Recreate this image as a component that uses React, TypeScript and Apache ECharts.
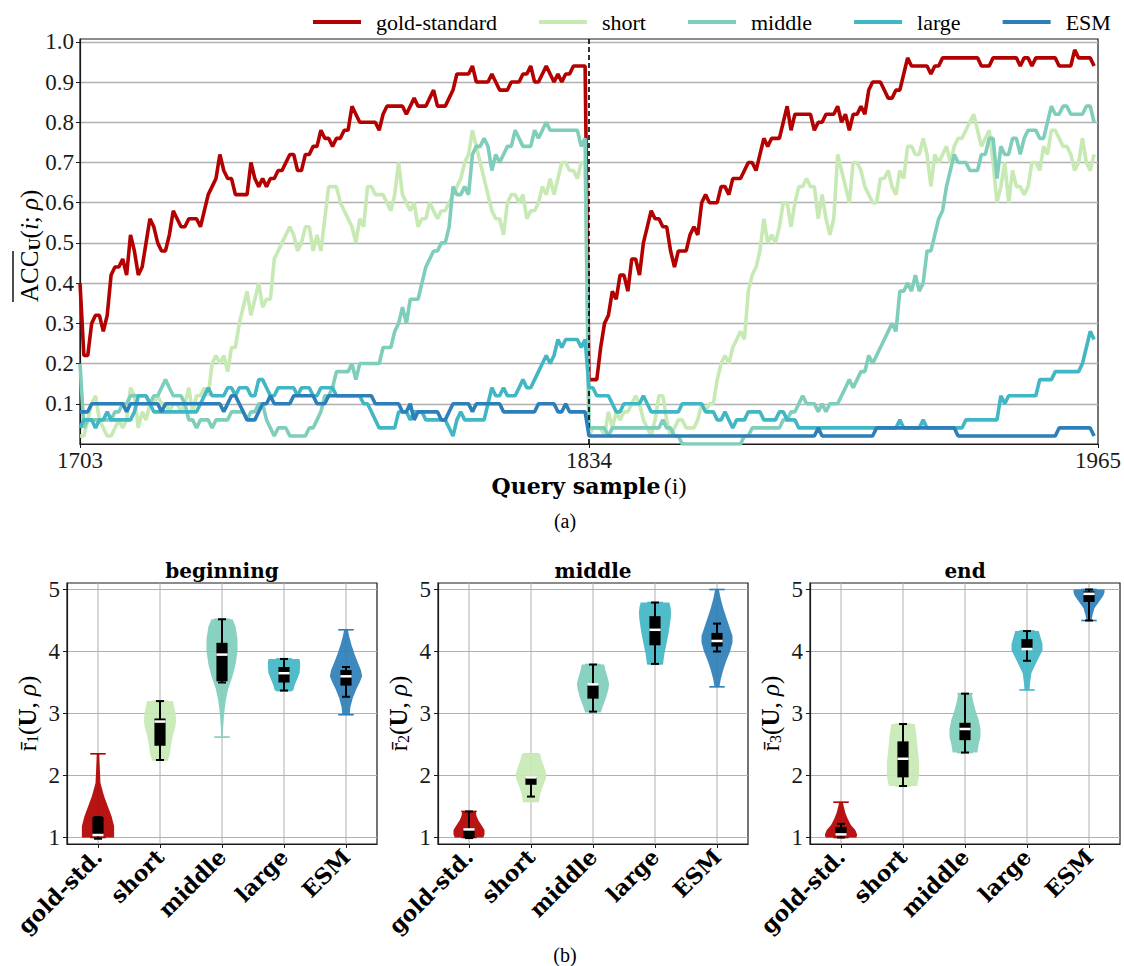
import React, { useEffect, useRef } from "react";
import * as echarts from "echarts";

// ---------------- top chart data ----------------
const START_SAMPLE = 1703;
const SPLIT_SAMPLE = 1834;
const END_SAMPLE = 1965;
const X_TICK_STEP = 131;
const ACC_TICKS = [0.1, 0.2, 0.3, 0.4, 0.5, 0.6, 0.7, 0.8, 0.9, 1.0];

const METHODS = ["gold-standard", "short", "middle", "large", "ESM"];
const METHOD_LABELS = ["gold-std.", "short", "middle", "large", "ESM"];
const COLORS = ["#b30000", "#c7e9b4", "#7fcdbb", "#41b6c4", "#2c7fb8"];

// mean accuracy per query sample, starting at 1703
const accGold = [
  0.40, 0.22, 0.22, 0.30, 0.32, 0.32, 0.28, 0.32, 0.42, 0.44,
  0.44, 0.46, 0.42, 0.52, 0.48, 0.42, 0.44, 0.50, 0.56, 0.54,
  0.50, 0.48, 0.48, 0.52, 0.58, 0.56, 0.54, 0.54, 0.56, 0.56,
  0.56, 0.54, 0.58, 0.62, 0.64, 0.66, 0.72, 0.68, 0.66, 0.66,
  0.62, 0.62, 0.62, 0.62, 0.70, 0.66, 0.64, 0.66, 0.64, 0.66,
  0.66, 0.68, 0.68, 0.70, 0.72, 0.72, 0.68, 0.68, 0.72, 0.72,
  0.74, 0.74, 0.78, 0.76, 0.76, 0.74, 0.76, 0.76, 0.78, 0.78,
  0.84, 0.82, 0.80, 0.80, 0.80, 0.80, 0.80, 0.78, 0.82, 0.84,
  0.84, 0.84, 0.84, 0.84, 0.82, 0.84, 0.86, 0.84, 0.84, 0.84,
  0.86, 0.88, 0.84, 0.84, 0.84, 0.86, 0.88, 0.92, 0.92, 0.92,
  0.92, 0.94, 0.90, 0.90, 0.90, 0.90, 0.92, 0.90, 0.88, 0.88,
  0.88, 0.90, 0.90, 0.90, 0.92, 0.92, 0.94, 0.90, 0.90, 0.92,
  0.94, 0.92, 0.90, 0.92, 0.90, 0.92, 0.92, 0.94, 0.94, 0.94,
  0.94, 0.16, 0.16, 0.16, 0.24, 0.30, 0.32, 0.38, 0.36, 0.42,
  0.42, 0.38, 0.46, 0.46, 0.42, 0.50, 0.54, 0.58, 0.56, 0.56,
  0.54, 0.54, 0.48, 0.44, 0.48, 0.48, 0.48, 0.52, 0.54, 0.52,
  0.60, 0.62, 0.60, 0.60, 0.60, 0.64, 0.64, 0.62, 0.66, 0.66,
  0.66, 0.68, 0.70, 0.70, 0.68, 0.72, 0.76, 0.74, 0.76, 0.76,
  0.76, 0.80, 0.84, 0.78, 0.82, 0.82, 0.82, 0.82, 0.82, 0.78,
  0.80, 0.80, 0.82, 0.82, 0.82, 0.84, 0.80, 0.82, 0.78, 0.82,
  0.82, 0.84, 0.82, 0.88, 0.90, 0.90, 0.90, 0.88, 0.86, 0.86,
  0.88, 0.88, 0.92, 0.96, 0.94, 0.94, 0.94, 0.94, 0.94, 0.92,
  0.94, 0.94, 0.96, 0.96, 0.96, 0.96, 0.96, 0.96, 0.96, 0.96,
  0.96, 0.96, 0.94, 0.94, 0.94, 0.96, 0.96, 0.96, 0.96, 0.96,
  0.96, 0.96, 0.94, 0.96, 0.96, 0.94, 0.96, 0.96, 0.96, 0.96,
  0.96, 0.96, 0.94, 0.94, 0.94, 0.94, 0.98, 0.96, 0.96, 0.96,
  0.96, 0.94,
];

const accShort = [
  0.02, 0.02, 0.06, 0.10, 0.12, 0.06, 0.04, 0.02, 0.02, 0.04,
  0.06, 0.04, 0.06, 0.14, 0.12, 0.04, 0.08, 0.06, 0.10, 0.10,
  0.12, 0.10, 0.10, 0.08, 0.10, 0.10, 0.08, 0.10, 0.14, 0.08,
  0.12, 0.12, 0.14, 0.12, 0.20, 0.22, 0.20, 0.22, 0.18, 0.24,
  0.24, 0.30, 0.34, 0.38, 0.32, 0.36, 0.40, 0.34, 0.36, 0.36,
  0.46, 0.48, 0.50, 0.52, 0.54, 0.52, 0.48, 0.50, 0.54, 0.54,
  0.48, 0.52, 0.48, 0.56, 0.64, 0.64, 0.64, 0.60, 0.58, 0.56,
  0.54, 0.50, 0.56, 0.54, 0.64, 0.64, 0.62, 0.62, 0.62, 0.60,
  0.58, 0.62, 0.70, 0.62, 0.60, 0.58, 0.60, 0.54, 0.56, 0.56,
  0.60, 0.58, 0.56, 0.58, 0.58, 0.60, 0.62, 0.64, 0.66, 0.70,
  0.72, 0.78, 0.74, 0.70, 0.66, 0.62, 0.58, 0.56, 0.56, 0.52,
  0.60, 0.62, 0.62, 0.60, 0.62, 0.56, 0.58, 0.58, 0.60, 0.64,
  0.62, 0.66, 0.62, 0.66, 0.70, 0.70, 0.68, 0.68, 0.66, 0.70,
  0.70, 0.02, 0.04, 0.04, 0.04, 0.02, 0.08, 0.04, 0.08, 0.06,
  0.08, 0.08, 0.10, 0.12, 0.10, 0.06, 0.04, 0.02, 0.06, 0.12,
  0.12, 0.06, 0.02, 0.04, 0.06, 0.06, 0.04, 0.04, 0.04, 0.06,
  0.10, 0.08, 0.10, 0.10, 0.16, 0.20, 0.22, 0.20, 0.24, 0.26,
  0.28, 0.26, 0.38, 0.42, 0.44, 0.48, 0.56, 0.50, 0.52, 0.50,
  0.54, 0.60, 0.60, 0.54, 0.60, 0.64, 0.64, 0.66, 0.64, 0.64,
  0.56, 0.62, 0.56, 0.52, 0.56, 0.72, 0.68, 0.64, 0.60, 0.70,
  0.70, 0.68, 0.64, 0.62, 0.60, 0.60, 0.66, 0.66, 0.68, 0.64,
  0.62, 0.68, 0.66, 0.74, 0.74, 0.72, 0.72, 0.76, 0.72, 0.64,
  0.72, 0.70, 0.72, 0.74, 0.70, 0.74, 0.76, 0.76, 0.78, 0.80,
  0.82, 0.78, 0.74, 0.76, 0.78, 0.70, 0.60, 0.64, 0.70, 0.60,
  0.68, 0.64, 0.64, 0.62, 0.64, 0.70, 0.70, 0.68, 0.74, 0.72,
  0.78, 0.78, 0.76, 0.74, 0.74, 0.72, 0.68, 0.70, 0.76, 0.70,
  0.68, 0.72,
];

const accMiddle = [
  0.20, 0.04, 0.06, 0.06, 0.06, 0.06, 0.06, 0.06, 0.06, 0.08,
  0.08, 0.10, 0.10, 0.12, 0.12, 0.12, 0.12, 0.12, 0.10, 0.12,
  0.12, 0.14, 0.16, 0.14, 0.12, 0.12, 0.12, 0.10, 0.06, 0.06,
  0.04, 0.06, 0.06, 0.06, 0.04, 0.06, 0.06, 0.06, 0.06, 0.08,
  0.08, 0.08, 0.08, 0.06, 0.08, 0.08, 0.10, 0.10, 0.06, 0.04,
  0.02, 0.04, 0.04, 0.04, 0.02, 0.02, 0.02, 0.02, 0.02, 0.04,
  0.04, 0.06, 0.08, 0.12, 0.12, 0.14, 0.18, 0.18, 0.18, 0.18,
  0.20, 0.16, 0.20, 0.20, 0.20, 0.20, 0.20, 0.20, 0.24, 0.24,
  0.24, 0.28, 0.30, 0.34, 0.30, 0.36, 0.36, 0.36, 0.40, 0.44,
  0.46, 0.48, 0.48, 0.50, 0.50, 0.54, 0.64, 0.62, 0.62, 0.64,
  0.62, 0.72, 0.74, 0.74, 0.76, 0.74, 0.68, 0.72, 0.70, 0.72,
  0.74, 0.74, 0.78, 0.76, 0.74, 0.74, 0.74, 0.78, 0.76, 0.78,
  0.80, 0.78, 0.78, 0.78, 0.78, 0.78, 0.78, 0.78, 0.78, 0.74,
  0.76, 0.04, 0.04, 0.04, 0.04, 0.04, 0.02, 0.04, 0.04, 0.04,
  0.04, 0.04, 0.04, 0.04, 0.04, 0.04, 0.04, 0.04, 0.04, 0.04,
  0.06, 0.04, 0.04, 0.02, 0.02, 0.00, 0.00, 0.00, 0.00, 0.00,
  0.00, 0.00, 0.00, 0.00, 0.00, 0.00, 0.00, 0.00, 0.00, 0.00,
  0.00, 0.02, 0.02, 0.04, 0.04, 0.04, 0.04, 0.04, 0.04, 0.04,
  0.04, 0.06, 0.06, 0.08, 0.08, 0.10, 0.12, 0.10, 0.10, 0.10,
  0.08, 0.10, 0.08, 0.10, 0.10, 0.10, 0.12, 0.14, 0.16, 0.14,
  0.16, 0.18, 0.18, 0.22, 0.20, 0.22, 0.24, 0.26, 0.28, 0.30,
  0.28, 0.38, 0.38, 0.40, 0.38, 0.42, 0.38, 0.40, 0.48, 0.48,
  0.52, 0.56, 0.58, 0.64, 0.68, 0.72, 0.70, 0.70, 0.70, 0.68,
  0.68, 0.68, 0.72, 0.72, 0.76, 0.76, 0.66, 0.74, 0.72, 0.72,
  0.76, 0.76, 0.72, 0.76, 0.78, 0.78, 0.78, 0.76, 0.76, 0.80,
  0.84, 0.82, 0.82, 0.84, 0.84, 0.82, 0.82, 0.82, 0.82, 0.84,
  0.84, 0.80,
];

const accLarge = [
  0.04, 0.06, 0.06, 0.06, 0.04, 0.06, 0.06, 0.08, 0.06, 0.06,
  0.06, 0.06, 0.06, 0.06, 0.08, 0.12, 0.12, 0.12, 0.10, 0.08,
  0.08, 0.08, 0.08, 0.08, 0.08, 0.08, 0.08, 0.08, 0.08, 0.08,
  0.08, 0.10, 0.12, 0.14, 0.12, 0.12, 0.12, 0.12, 0.14, 0.14,
  0.12, 0.14, 0.14, 0.14, 0.12, 0.12, 0.16, 0.16, 0.14, 0.12,
  0.12, 0.14, 0.14, 0.14, 0.14, 0.14, 0.12, 0.14, 0.14, 0.14,
  0.12, 0.12, 0.14, 0.14, 0.14, 0.14, 0.12, 0.12, 0.12, 0.12,
  0.12, 0.12, 0.12, 0.10, 0.10, 0.08, 0.06, 0.04, 0.04, 0.04,
  0.04, 0.04, 0.08, 0.08, 0.08, 0.06, 0.08, 0.08, 0.08, 0.06,
  0.06, 0.06, 0.06, 0.06, 0.06, 0.04, 0.02, 0.06, 0.08, 0.06,
  0.06, 0.06, 0.06, 0.06, 0.06, 0.10, 0.14, 0.12, 0.12, 0.14,
  0.12, 0.12, 0.12, 0.14, 0.16, 0.14, 0.14, 0.16, 0.18, 0.20,
  0.22, 0.20, 0.22, 0.26, 0.24, 0.26, 0.26, 0.26, 0.26, 0.24,
  0.26, 0.14, 0.14, 0.12, 0.12, 0.12, 0.12, 0.10, 0.08, 0.08,
  0.10, 0.10, 0.10, 0.10, 0.10, 0.12, 0.10, 0.08, 0.08, 0.08,
  0.08, 0.08, 0.08, 0.08, 0.08, 0.10, 0.10, 0.10, 0.10, 0.10,
  0.10, 0.08, 0.08, 0.08, 0.06, 0.06, 0.08, 0.06, 0.04, 0.06,
  0.06, 0.06, 0.08, 0.08, 0.08, 0.08, 0.06, 0.06, 0.06, 0.06,
  0.08, 0.08, 0.06, 0.06, 0.06, 0.04, 0.04, 0.04, 0.04, 0.04,
  0.04, 0.04, 0.04, 0.04, 0.04, 0.04, 0.04, 0.04, 0.04, 0.04,
  0.04, 0.04, 0.04, 0.04, 0.04, 0.04, 0.04, 0.04, 0.04, 0.04,
  0.04, 0.06, 0.04, 0.04, 0.04, 0.04, 0.04, 0.06, 0.04, 0.04,
  0.04, 0.04, 0.04, 0.04, 0.04, 0.04, 0.04, 0.04, 0.06, 0.06,
  0.06, 0.06, 0.06, 0.06, 0.06, 0.06, 0.06, 0.12, 0.10, 0.12,
  0.12, 0.12, 0.12, 0.12, 0.12, 0.12, 0.12, 0.16, 0.16, 0.16,
  0.16, 0.18, 0.18, 0.18, 0.18, 0.18, 0.18, 0.18, 0.20, 0.24,
  0.28, 0.26,
];

const accEsm = [
  0.08, 0.08, 0.08, 0.10, 0.10, 0.10, 0.10, 0.10, 0.10, 0.10,
  0.10, 0.10, 0.08, 0.10, 0.10, 0.10, 0.10, 0.10, 0.10, 0.10,
  0.10, 0.08, 0.10, 0.10, 0.10, 0.10, 0.10, 0.10, 0.10, 0.10,
  0.10, 0.10, 0.10, 0.10, 0.10, 0.10, 0.10, 0.08, 0.10, 0.12,
  0.12, 0.10, 0.08, 0.06, 0.06, 0.06, 0.08, 0.10, 0.10, 0.12,
  0.10, 0.10, 0.10, 0.10, 0.10, 0.12, 0.12, 0.12, 0.12, 0.12,
  0.12, 0.10, 0.10, 0.10, 0.12, 0.12, 0.12, 0.12, 0.12, 0.12,
  0.12, 0.12, 0.12, 0.12, 0.12, 0.12, 0.10, 0.10, 0.10, 0.10,
  0.10, 0.10, 0.10, 0.08, 0.08, 0.10, 0.06, 0.08, 0.08, 0.08,
  0.08, 0.08, 0.08, 0.06, 0.06, 0.08, 0.10, 0.10, 0.10, 0.10,
  0.10, 0.08, 0.10, 0.10, 0.10, 0.10, 0.10, 0.10, 0.10, 0.08,
  0.08, 0.08, 0.08, 0.08, 0.08, 0.08, 0.08, 0.08, 0.10, 0.10,
  0.10, 0.10, 0.10, 0.08, 0.08, 0.10, 0.08, 0.08, 0.08, 0.08,
  0.08, 0.02, 0.02, 0.02, 0.02, 0.02, 0.02, 0.02, 0.02, 0.02,
  0.02, 0.02, 0.02, 0.02, 0.02, 0.02, 0.02, 0.02, 0.02, 0.02,
  0.02, 0.02, 0.02, 0.02, 0.02, 0.02, 0.02, 0.02, 0.02, 0.02,
  0.02, 0.02, 0.02, 0.02, 0.02, 0.02, 0.02, 0.02, 0.02, 0.02,
  0.02, 0.02, 0.02, 0.02, 0.02, 0.02, 0.02, 0.02, 0.02, 0.02,
  0.02, 0.02, 0.02, 0.02, 0.02, 0.02, 0.02, 0.02, 0.02, 0.02,
  0.04, 0.02, 0.02, 0.02, 0.02, 0.02, 0.02, 0.02, 0.02, 0.02,
  0.02, 0.02, 0.02, 0.02, 0.02, 0.04, 0.04, 0.04, 0.04, 0.04,
  0.04, 0.04, 0.04, 0.04, 0.04, 0.04, 0.04, 0.04, 0.04, 0.04,
  0.04, 0.04, 0.04, 0.04, 0.04, 0.04, 0.02, 0.02, 0.02, 0.02,
  0.02, 0.02, 0.02, 0.02, 0.02, 0.02, 0.02, 0.02, 0.02, 0.02,
  0.02, 0.02, 0.02, 0.02, 0.02, 0.02, 0.02, 0.02, 0.02, 0.02,
  0.02, 0.02, 0.04, 0.04, 0.04, 0.04, 0.04, 0.04, 0.04, 0.04,
  0.04, 0.02,
];

const ACC_SERIES = [accGold, accShort, accMiddle, accLarge, accEsm];

// ---------------- violin data ----------------
const PANEL_TITLES = ["beginning", "middle", "end"];
const RANK_TICKS = [1, 2, 3, 4, 5];
const RANK_MIN = 0.895;
const RANK_MAX = 5.105;

// violin outline: [rank, half width (category units)], bottom to top
const profilesBeginning = [
  [[1.0, 0.26], [1.18, 0.26], [1.34, 0.22], [1.5, 0.16], [1.66, 0.1], [1.88, 0.04], [2.1, 0.03], [2.35, 0.02]],
  [[2.25, 0.13], [2.35, 0.16], [2.5, 0.18], [2.65, 0.21], [2.8, 0.25], [2.9, 0.26], [3.0, 0.25], [3.1, 0.23], [3.2, 0.21]],
  [[2.62, 0.01], [2.8, 0.02], [3.0, 0.035], [3.2, 0.06], [3.4, 0.1], [3.6, 0.17], [3.8, 0.22], [4.0, 0.25], [4.2, 0.25], [4.4, 0.22], [4.52, 0.17]],
  [[3.37, 0.15], [3.45, 0.17], [3.55, 0.21], [3.65, 0.25], [3.75, 0.26], [3.82, 0.26], [3.88, 0.25]],
  [[2.98, 0.06], [3.1, 0.07], [3.25, 0.11], [3.4, 0.17], [3.5, 0.22], [3.6, 0.26], [3.7, 0.24], [3.8, 0.2], [3.95, 0.14], [4.1, 0.09], [4.25, 0.05], [4.35, 0.03]],
];
const profilesMiddle = [
  [[1.0, 0.23], [1.05, 0.25], [1.12, 0.25], [1.2, 0.2], [1.28, 0.15], [1.35, 0.12], [1.42, 0.11]],
  [[1.58, 0.13], [1.7, 0.15], [1.85, 0.2], [1.95, 0.24], [2.02, 0.25], [2.15, 0.21], [2.25, 0.17], [2.35, 0.15]],
  [[3.03, 0.13], [3.12, 0.16], [3.25, 0.21], [3.4, 0.25], [3.48, 0.26], [3.6, 0.23], [3.7, 0.2], [3.79, 0.18]],
  [[3.8, 0.13], [3.95, 0.15], [4.1, 0.18], [4.3, 0.22], [4.5, 0.25], [4.62, 0.26], [4.72, 0.25], [4.79, 0.23]],
  [[3.43, 0.04], [3.55, 0.06], [3.7, 0.1], [3.85, 0.15], [4.0, 0.21], [4.15, 0.25], [4.25, 0.25], [4.4, 0.2], [4.55, 0.15], [4.7, 0.1], [4.85, 0.06], [5.0, 0.03]],
];
const profilesEnd = [
  [[1.0, 0.25], [1.05, 0.26], [1.12, 0.23], [1.2, 0.16], [1.3, 0.11], [1.4, 0.07], [1.5, 0.045], [1.57, 0.03]],
  [[1.83, 0.23], [2.0, 0.26], [2.2, 0.26], [2.4, 0.24], [2.6, 0.22], [2.75, 0.2], [2.83, 0.19]],
  [[2.37, 0.2], [2.5, 0.22], [2.62, 0.25], [2.75, 0.25], [2.9, 0.22], [3.05, 0.17], [3.2, 0.13], [3.32, 0.11]],
  [[3.38, 0.04], [3.5, 0.05], [3.65, 0.07], [3.8, 0.14], [3.92, 0.2], [4.02, 0.25], [4.12, 0.25], [4.22, 0.22], [4.33, 0.19]],
  [[4.5, 0.04], [4.6, 0.06], [4.7, 0.09], [4.8, 0.16], [4.9, 0.23], [4.95, 0.25], [5.0, 0.25]],
];

// box plot: [whisker low, Q1, median, Q3, whisker high]
const boxesBeginning = [
  [0.98, 1.02, 1.04, 1.33, 1.33],
  [2.25, 2.48, 2.87, 2.92, 3.2],
  [3.5, 3.52, 3.95, 4.14, 4.52],
  [3.37, 3.5, 3.65, 3.75, 3.88],
  [3.27, 3.45, 3.6, 3.7, 3.75],
];
const boxesMiddle = [
  [0.99, 0.99, 1.13, 1.13, 1.42],
  [1.66, 1.85, 1.97, 1.97, 1.97],
  [3.03, 3.24, 3.47, 3.47, 3.79],
  [3.8, 4.1, 4.35, 4.57, 4.79],
  [4.0, 4.08, 4.17, 4.3, 4.45],
];
const boxesEnd = [
  [1.0, 1.03, 1.05, 1.17, 1.22],
  [1.83, 1.97, 2.27, 2.55, 2.83],
  [2.37, 2.57, 2.75, 2.85, 3.32],
  [3.85, 4.03, 4.04, 4.2, 4.33],
  [4.5, 4.8, 4.93, 4.97, 5.0],
];

const PANEL_PROFILES = [profilesBeginning, profilesMiddle, profilesEnd];
const PANEL_BOXES = [boxesBeginning, boxesMiddle, boxesEnd];

// ---------------- styling ----------------
const FONT = '"Liberation Serif", "DejaVu Serif", serif';
const BOLD_FONT = '"DejaVu Serif", serif';
const INK = "#1a1a1a";
const GRID_GREY = "#b0b0b0";
const PANEL_LEFTS = [67, 438, 810];

function makeViolinRenderer(profiles: number[][][]) {
  return (params: any, api: any) => {
    const idx = params.dataIndex;
    const cat = api.value(0);
    const wLo = api.value(1);
    const q1 = api.value(2);
    const med = api.value(3);
    const q3 = api.value(4);
    const wHi = api.value(5);
    const band = api.size([1, 0])[0];
    const prof = profiles[idx];
    const color = COLORS[idx];
    const base = api.coord([cat, RANK_MIN]);
    const topPt = api.coord([cat, RANK_MAX]);
    const cx = base[0];
    const y = (v: number) => api.coord([cat, v])[1];
    const left = prof.map(([v, hw]) => [cx - hw * band, y(v)]);
    const right = prof
      .slice()
      .reverse()
      .map(([v, hw]) => [cx + hw * band, y(v)]);
    const vMin = prof[0][0];
    const vMax = prof[prof.length - 1][0];
    const capHW = 0.125 * band;
    const boxHW = 0.09 * band;
    const whHW = 0.065 * band;
    const hline = (v: number, hw: number, stroke: string, lw: number) => ({
      type: "line",
      shape: { x1: cx - hw, y1: y(v), x2: cx + hw, y2: y(v) },
      style: { stroke, lineWidth: lw },
    });
    return {
      type: "group",
      children: [
        {
          type: "line",
          shape: { x1: cx, y1: topPt[1], x2: cx, y2: base[1] },
          style: { stroke: GRID_GREY, lineWidth: 1 },
        },
        {
          type: "polygon",
          shape: { points: [...left, ...right] },
          style: { fill: color, opacity: 0.92 },
        },
        hline(vMin, capHW, color, 1.6),
        hline(vMax, capHW, color, 1.6),
        {
          type: "line",
          shape: { x1: cx, y1: y(wLo), x2: cx, y2: y(wHi) },
          style: { stroke: "#000", lineWidth: 2 },
        },
        hline(wLo, whHW, "#000", 2),
        hline(wHi, whHW, "#000", 2),
        {
          type: "rect",
          shape: { x: cx - boxHW, y: y(q3), width: 2 * boxHW, height: Math.max(1.5, y(q1) - y(q3)) },
          style: { fill: "#000" },
        },
        hline(med, boxHW, "#ffffff", 2.5),
      ],
    };
  };
}

function buildOption() {
  const grids: any[] = [
    { left: 80, top: 39, width: 1020, height: 405, show: true, borderColor: INK, borderWidth: 1.2 },
  ];
  PANEL_LEFTS.forEach((left) =>
    grids.push({ left, top: 583, width: 310, height: 261, show: true, borderColor: INK, borderWidth: 1.2 })
  );

  const xAxes: any[] = [
    {
      type: "value",
      gridIndex: 0,
      min: START_SAMPLE,
      max: END_SAMPLE,
      interval: X_TICK_STEP,
      axisLine: { show: true, lineStyle: { color: INK, width: 1.2 } },
      axisTick: { show: true, length: 4, lineStyle: { color: INK } },
      axisLabel: {
        formatter: (v: number) => String(Math.round(v)),
        fontFamily: FONT,
        fontSize: 23,
        color: INK,
        margin: 5,
        showMinLabel: true,
        showMaxLabel: true,
      },
      splitLine: { show: false },
      name: "{b|Query sample} {a|(i)}",
      nameLocation: "middle",
      nameGap: 30,
      nameTextStyle: {
        rich: {
          b: { fontFamily: BOLD_FONT, fontWeight: "bold", fontSize: 22, color: "#000" },
          a: { fontFamily: FONT, fontSize: 24, color: "#000" },
        },
      },
    },
  ];
  const yAxes: any[] = [
    {
      type: "value",
      gridIndex: 0,
      min: 0,
      max: 1.007,
      interval: 0.1,
      axisLine: { show: true, lineStyle: { color: INK, width: 1.2 } },
      axisTick: { show: true, length: 4, customValues: ACC_TICKS, lineStyle: { color: INK } },
      axisLabel: {
        customValues: ACC_TICKS,
        formatter: (v: number) => v.toFixed(1),
        fontFamily: FONT,
        fontSize: 23,
        color: INK,
        margin: 6,
      },
      splitLine: { show: true, lineStyle: { color: GRID_GREY, width: 1.3 } },
    },
  ];

  PANEL_TITLES.forEach((_, k) => {
    xAxes.push({
      type: "category",
      gridIndex: k + 1,
      data: METHOD_LABELS,
      boundaryGap: true,
      axisLine: { show: true, lineStyle: { color: INK, width: 1.2 } },
      axisTick: { show: true, alignWithLabel: true, length: 4, lineStyle: { color: INK } },
      axisLabel: {
        interval: 0,
        rotate: 45,
        fontFamily: BOLD_FONT,
        fontWeight: "bold",
        fontSize: 22,
        color: "#000",
        margin: 9,
      },
      splitLine: { show: false },
    });
    yAxes.push({
      type: "value",
      gridIndex: k + 1,
      min: RANK_MIN,
      max: RANK_MAX,
      axisLine: { show: true, lineStyle: { color: INK, width: 1.2 } },
      axisTick: { show: true, length: 4, customValues: RANK_TICKS, lineStyle: { color: INK } },
      axisLabel: {
        customValues: RANK_TICKS,
        formatter: (v: number) => String(Math.round(v)),
        fontFamily: FONT,
        fontSize: 23,
        color: INK,
        margin: 7,
      },
      splitLine: { show: true, lineStyle: { color: GRID_GREY, width: 1 } },
      name: `{r|r\u0304}{s|${k + 1}}{a|(}{b|U}{a|, }{i|\u03c1}{a|)}`,
      nameLocation: "middle",
      nameRotate: 90,
      nameGap: 27,
      nameTextStyle: {
        rich: {
          r: { fontFamily: FONT, fontSize: 25, color: "#000" },
          a: { fontFamily: FONT, fontSize: 25, color: "#000" },
          b: { fontFamily: FONT, fontSize: 25, fontWeight: "bold", color: "#000" },
          i: { fontFamily: FONT, fontSize: 25, fontStyle: "italic", color: "#000" },
          s: { fontFamily: FONT, fontSize: 16, color: "#000", verticalAlign: "bottom", lineHeight: 15 },
        },
      },
    });
  });

  const series: any[] = ACC_SERIES.map((vals, k) => ({
    type: "line",
    name: METHODS[k],
    xAxisIndex: 0,
    yAxisIndex: 0,
    data: vals.map((v, j) => [START_SAMPLE + j, v]),
    showSymbol: false,
    symbol: "none",
    color: COLORS[k],
    lineStyle: { width: 3.6, color: COLORS[k] },
    z: 2 + k,
    ...(k === ACC_SERIES.length - 1
      ? {
          markLine: {
            silent: true,
            symbol: ["none", "none"],
            label: { show: false },
            lineStyle: { type: [5, 3], color: "#000", width: 1.6 },
            data: [{ xAxis: SPLIT_SAMPLE }],
          },
        }
      : {}),
  }));

  PANEL_TITLES.forEach((_, k) => {
    series.push({
      type: "custom",
      name: `violin-${k}`,
      xAxisIndex: k + 1,
      yAxisIndex: k + 1,
      silent: true,
      data: PANEL_BOXES[k].map((b, i) => [i, ...b]),
      renderItem: makeViolinRenderer(PANEL_PROFILES[k]),
      z: 3,
    });
  });

  const centered = { textAlign: "center", textVerticalAlign: "middle", align: "center", verticalAlign: "middle" };
  const graphics: any[] = PANEL_TITLES.map((t, k) => ({
    type: "text",
    x: PANEL_LEFTS[k] + 155,
    y: 571,
    style: { text: t, font: `bold 20px ${BOLD_FONT}`, fill: "#000", ...centered },
  }));
  [
    ["(a)", 521],
    ["(b)", 955],
  ].forEach(([t, yy]) =>
    graphics.push({
      type: "text",
      x: 565,
      y: yy,
      style: { text: t, font: `20px ${FONT}`, fill: "#000", ...centered },
    })
  );
  // y-axis title of the accuracy plot (rotated, reading upwards), with overline on ACC
  graphics.push({
    type: "text",
    x: 29,
    y: 302,
    rotation: Math.PI / 2,
    style: {
      text: "{a|ACC}{s|U}{a|(}{i|i}{a|; }{i|\u03c1}{a|)}",
      fill: "#000",
      textAlign: "left",
      align: "left",
      textVerticalAlign: "middle",
      verticalAlign: "middle",
      rich: {
        a: { fontFamily: FONT, fontSize: 25, fill: "#000", color: "#000" },
        i: { fontFamily: FONT, fontSize: 25, fontStyle: "italic", fill: "#000", color: "#000" },
        s: {
          fontFamily: BOLD_FONT,
          fontSize: 14,
          fontWeight: "bold",
          fill: "#000",
          color: "#000",
          verticalAlign: "bottom",
          lineHeight: 14,
        },
      },
    },
  });
  graphics.push({
    type: "line",
    shape: { x1: 13, y1: 302, x2: 13, y2: 251 },
    style: { stroke: "#000", lineWidth: 1.4 },
  });

  return {
    animation: false,
    backgroundColor: "#ffffff",
    legend: {
      data: METHODS,
      top: 6,
      left: 308,
      icon: "rect",
      itemWidth: 48,
      itemHeight: 4,
      itemGap: 42,
      textStyle: { fontFamily: FONT, fontSize: 22, color: "#000", padding: [0, 0, 0, 10] },
    },
    grid: grids,
    xAxis: xAxes,
    yAxis: yAxes,
    series,
    graphic: graphics,
  };
}

export default function App() {
  const ref = useRef<HTMLDivElement>(null);
  useEffect(() => {
    if (!ref.current) return;
    const chart = echarts.init(ref.current, undefined, { renderer: "svg" });
    chart.setOption(buildOption() as any);
    return () => chart.dispose();
  }, []);
  return (
    <div
      ref={ref}
      style={{ position: "absolute", left: 0, top: 0, width: 1124, height: 966, background: "#fff" }}
    />
  );
}
